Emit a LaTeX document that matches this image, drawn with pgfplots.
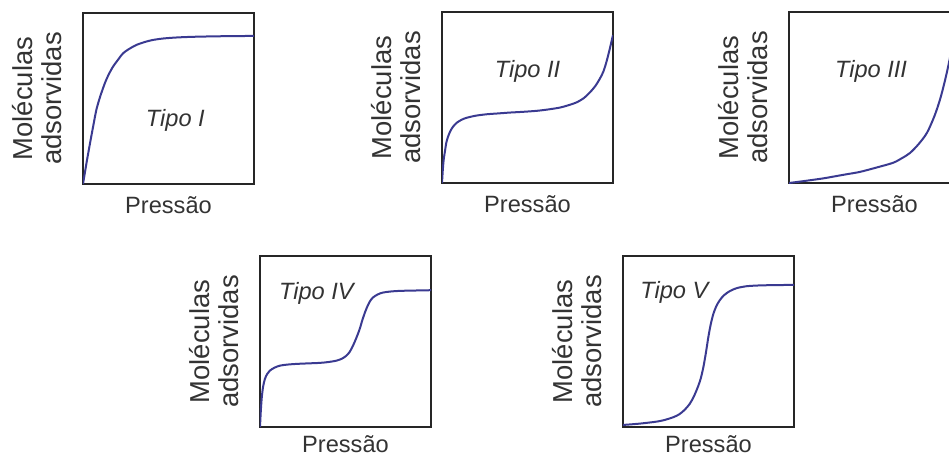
\documentclass[border=0pt]{standalone}
\usepackage{fontspec}
\setmainfont{Liberation Sans}
\usepackage{pgfplots}
\pgfplotsset{compat=1.18}
\definecolor{curve}{RGB}{58,58,145}
\pgfplotsset{
  panel/.style={
    scale only axis, width=85.5pt, height=85.5pt,
    anchor=south west,
    xmin=0, xmax=1, ymin=0, ymax=1,
    xtick=\empty, ytick=\empty,
    axis line style={line width=0.8pt, black!85},
    xlabel={Pressão},
    ylabel={Moléculas\\adsorvidas},
    ylabel style={at={(axis description cs:-0.269,0.5)}, anchor=center, align=center,
      inner sep=0pt, font=\fontsize{13.7}{14.2}\selectfont, text=black!80},
    xlabel style={at={(axis description cs:0.5,#1)}, anchor=base, inner sep=0pt,
      font=\fontsize{11.8}{13}\selectfont, text=black!80},
  },
  iso/.style={line width=1pt, draw=curve, smooth, tension=0.5, mark=none},
}
\tikzset{tipo/.style={font=\fontsize{11.8}{13}\selectfont\itshape, text=black!80, anchor=center, inner sep=0pt}}
\begin{document}
\begin{tikzpicture}
\useasboundingbox (0,0) rectangle (474.5pt,228.5pt);
% Tipo I
\begin{axis}[panel=-0.17, at={(41.5pt,136.5pt)}]
\addplot[iso] coordinates {(0,0) (0.02,0.12) (0.041,0.238) (0.06,0.34) (0.078,0.433) (0.10,0.51) (0.128,0.59) (0.15,0.64) (0.176,0.687) (0.20,0.72) (0.234,0.764) (0.27,0.79) (0.312,0.813) (0.36,0.83) (0.407,0.842) (0.47,0.851) (0.55,0.857) (0.65,0.861) (0.8,0.864) (1.0,0.866)};
\node[tipo] at (axis cs:0.54,0.374) {Tipo I};
\end{axis}
% Tipo II
\begin{axis}[panel=-0.17, at={(221pt,137pt)}]
\addplot[iso] coordinates {(0,0) (0.005,0.08) (0.01,0.137) (0.018,0.19) (0.025,0.235) (0.035,0.27) (0.049,0.304) (0.065,0.33) (0.087,0.353) (0.115,0.37) (0.146,0.382) (0.2,0.394) (0.262,0.402) (0.33,0.407) (0.398,0.412) (0.47,0.416) (0.553,0.422) (0.62,0.43) (0.689,0.441) (0.74,0.455) (0.786,0.471) (0.83,0.497) (0.864,0.529) (0.895,0.565) (0.922,0.608) (0.943,0.65) (0.961,0.706) (0.98,0.78) (1.0,0.865)};
\node[tipo] at (axis cs:0.50,0.65) {Tipo II};
\end{axis}
% Tipo III
\begin{axis}[panel=-0.17, at={(394.5pt,137pt)}]
\addplot[iso] coordinates {(0,0) (0.1,0.013) (0.2,0.027) (0.257,0.037) (0.33,0.05) (0.415,0.065) (0.51,0.09) (0.608,0.118) (0.66,0.145) (0.708,0.176) (0.76,0.23) (0.807,0.294) (0.85,0.39) (0.883,0.488) (0.91,0.59) (0.936,0.706) (0.96,0.83) (0.98,0.93)};
\node[tipo] at (axis cs:0.48,0.65) {Tipo III};
\end{axis}
% Tipo IV
\begin{axis}[panel=-0.152, at={(130pt,15pt)}]
\addplot[iso] coordinates {(0,0) (0.004,0.08) (0.0097,0.165) (0.018,0.235) (0.029,0.282) (0.042,0.31) (0.058,0.33) (0.085,0.347) (0.117,0.359) (0.16,0.365) (0.214,0.369) (0.28,0.372) (0.35,0.375) (0.40,0.38) (0.447,0.388) (0.48,0.40) (0.505,0.417) (0.525,0.44) (0.544,0.476) (0.563,0.52) (0.583,0.573) (0.60,0.63) (0.621,0.689) (0.64,0.73) (0.66,0.757) (0.69,0.776) (0.718,0.786) (0.76,0.792) (0.816,0.796) (0.9,0.798) (1,0.80)};
\node[tipo] at (axis cs:0.33,0.78) {Tipo IV};
\end{axis}
% Tipo V
\begin{axis}[panel=-0.152, at={(311.5pt,15pt)}]
\addplot[iso] coordinates {(0,0.012) (0.1,0.02) (0.2,0.032) (0.25,0.043) (0.296,0.058) (0.33,0.075) (0.36,0.1) (0.39,0.135) (0.415,0.18) (0.44,0.24) (0.455,0.285) (0.47,0.35) (0.485,0.435) (0.499,0.525) (0.513,0.60) (0.528,0.66) (0.545,0.705) (0.565,0.74) (0.59,0.77) (0.625,0.795) (0.665,0.812) (0.72,0.823) (0.8,0.828) (0.9,0.83) (1.0,0.831)};
\node[tipo] at (axis cs:0.30,0.79) {Tipo V};
\end{axis}
\end{tikzpicture}
\end{document}
